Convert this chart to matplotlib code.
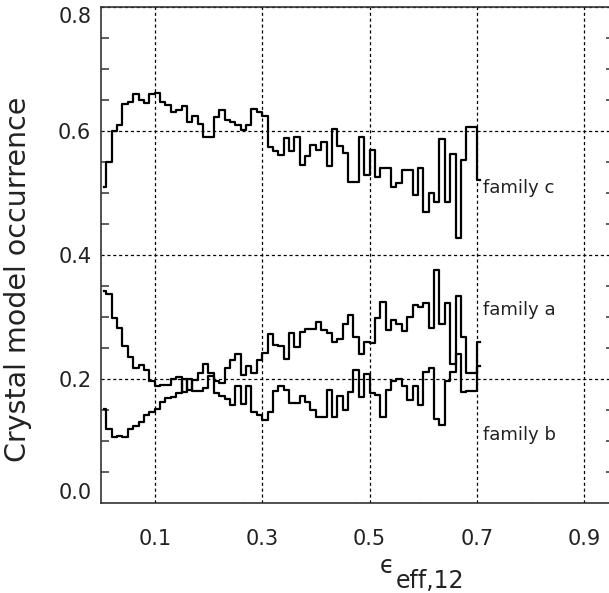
import matplotlib
matplotlib.use("Agg")
import matplotlib.pyplot as plt
from matplotlib.ticker import MultipleLocator
import numpy as np

# bin centres of the occurrence histograms (width 0.01)
bin_centers = 0.005 + 0.01 * np.arange(71)

family_a = [0.152, 0.119, 0.106, 0.108, 0.106, 0.120, 0.124, 0.131, 0.142, 0.147,
            0.152, 0.163, 0.169, 0.171, 0.177, 0.200, 0.182, 0.198, 0.209, 0.225,
            0.209, 0.197, 0.194, 0.218, 0.231, 0.241, 0.206, 0.221, 0.209, 0.231,
            0.242, 0.272, 0.255, 0.253, 0.233, 0.274, 0.251, 0.276, 0.280, 0.280,
            0.292, 0.279, 0.274, 0.260, 0.265, 0.288, 0.303, 0.268, 0.241, 0.260,
            0.258, 0.298, 0.325, 0.279, 0.295, 0.288, 0.278, 0.300, 0.319, 0.316,
            0.323, 0.283, 0.376, 0.288, 0.322, 0.225, 0.334, 0.268, 0.210, 0.210,
            0.260]

family_b = [0.342, 0.337, 0.298, 0.283, 0.253, 0.236, 0.218, 0.222, 0.214, 0.196,
            0.188, 0.191, 0.191, 0.200, 0.204, 0.179, 0.200, 0.181, 0.181, 0.185,
            0.205, 0.178, 0.172, 0.167, 0.158, 0.188, 0.160, 0.188, 0.146, 0.142,
            0.134, 0.147, 0.181, 0.188, 0.182, 0.161, 0.161, 0.172, 0.163, 0.150,
            0.139, 0.139, 0.183, 0.138, 0.172, 0.150, 0.179, 0.215, 0.171, 0.208,
            0.177, 0.174, 0.139, 0.182, 0.196, 0.200, 0.188, 0.166, 0.188, 0.158,
            0.212, 0.217, 0.136, 0.126, 0.196, 0.212, 0.241, 0.179, 0.180, 0.180,
            0.221]

family_c = [0.510, 0.550, 0.600, 0.610, 0.643, 0.647, 0.659, 0.650, 0.645, 0.660,
            0.662, 0.646, 0.642, 0.630, 0.634, 0.640, 0.615, 0.624, 0.612, 0.590,
            0.590, 0.622, 0.634, 0.618, 0.615, 0.610, 0.602, 0.610, 0.635, 0.630,
            0.624, 0.574, 0.567, 0.562, 0.588, 0.568, 0.590, 0.545, 0.560, 0.577,
            0.570, 0.583, 0.543, 0.604, 0.576, 0.564, 0.518, 0.518, 0.591, 0.529,
            0.570, 0.526, 0.541, 0.541, 0.510, 0.516, 0.537, 0.537, 0.497, 0.540,
            0.469, 0.500, 0.486, 0.587, 0.486, 0.563, 0.427, 0.554, 0.607, 0.607,
            0.521]

x_ticks = [0.1, 0.3, 0.5, 0.7, 0.9]
y_ticks = [0.0, 0.2, 0.4, 0.6, 0.8]
labels = ["family a", "family b", "family c"]
label_y = [0.311, 0.110, 0.508]

text_col = "#222222"

fig = plt.figure(figsize=(6.09, 5.93), dpi=100)
ax = fig.add_axes([101 / 609, 90 / 593, 513 / 609, 496 / 593])

for series in (family_a, family_b, family_c):
    ax.plot(bin_centers, series, drawstyle="steps-mid", color="black", lw=1.6, zorder=3)

for name, yy in zip(labels, label_y):
    ax.text(0.711, yy, name, va="center", ha="left", fontsize=13, color=text_col)

ax.set_xlim(0, 0.955)
ax.set_ylim(0, 0.8)
ax.set_xticks(x_ticks)
ax.set_xticklabels([f"{v:.1f}" for v in x_ticks])
ax.set_yticks(y_ticks)
ax.set_yticklabels([f"{v:.1f}" for v in y_ticks])
ax.yaxis.set_minor_locator(MultipleLocator(0.05))

ax.set_axisbelow(True)
ax.grid(True, which="major", color="black", lw=0.9, linestyle=(0, (2.5, 2.2)))

ax.tick_params(axis="x", which="major", length=0, pad=19, labelsize=15, labelcolor=text_col)
ax.tick_params(axis="y", which="major", length=0, pad=7, labelsize=15, labelcolor=text_col)
ax.tick_params(axis="y", which="minor", left=True, right=True, direction="in",
               length=6, width=1.1, color="#333333")
ylabs = ax.get_yticklabels()
ylabs[0].set_va("bottom")
ylabs[-1].set_va("top")

for sp in ax.spines.values():
    sp.set_linewidth(1.2)
    sp.set_color("#333333")

ax.set_ylabel("Crystal model occurrence", fontsize=20.5, color=text_col)
ax.yaxis.set_label_coords(-0.135, 0.45)

# x axis title: epsilon with a large subscript, placed as two pieces
fig.text(387 / 609, 1 - 573 / 593, "\u03f5", fontsize=17, color=text_col,
         ha="center", va="baseline")
fig.text(396 / 609, 1 - 588 / 593, "eff,12", fontsize=17, color=text_col,
         ha="left", va="baseline")

fig.savefig("out.png", dpi=100)
